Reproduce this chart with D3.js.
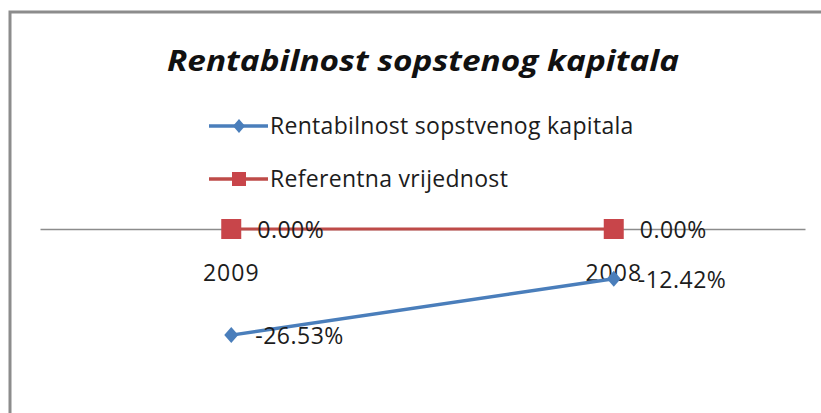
<!DOCTYPE html>
<html>
<head>
<meta charset="utf-8">
<script src="https://cdn.jsdelivr.net/npm/d3@7"></script>
<style>
  body { margin: 0; background: #fff; }
  text { font-family: "Open Sans", "DejaVu Sans", sans-serif; fill: #1c1c1c; }
</style>
</head>
<body>
<script>
// DATA
var categories = ["2009", "2008"];
var roeValues = [-26.53, -12.42];
var refValues = [0, 0];
var seriesNames = ["Rentabilnost sopstvenog kapitala", "Referentna vrijednost"];
var chartTitle = "Rentabilnost sopstenog kapitala";

var blue = "#4a7ebb", red = "#be4b48";

var svg = d3.select("body").append("svg")
    .attr("width", 821)
    .attr("height", 413);

// frame (cut off at right and bottom)
svg.append("rect")
    .attr("x", 10).attr("y", 12)
    .attr("width", 830).attr("height", 420)
    .attr("fill", "#fff")
    .attr("stroke", "#8c8c8c")
    .attr("stroke-width", 3);

// title
svg.append("text")
    .attr("x", 423).attr("y", 71)
    .attr("text-anchor", "middle")
    .attr("font-size", 29)
    .attr("font-style", "italic")
    .attr("font-weight", "bold")
    .attr("textLength", 512)
    .attr("lengthAdjust", "spacingAndGlyphs")
    .style("fill", "#111")
    .text(chartTitle);

// scales
const xScale = d3.scaleBand()
    .domain(categories)
    .range([40, 805]);

const yScale = d3.scaleLinear()
    .domain([-40, 10])
    .range([389, 189]);

const cx = d => xScale(d) + xScale.bandwidth() / 2;

// category axis at zero
const axisG = svg.append("g")
    .attr("transform", "translate(0," + yScale(0) + ")")
    .call(d3.axisBottom(xScale).tickSize(0).tickPadding(0));
axisG.select(".domain").attr("stroke", "#8c8c8c").attr("stroke-width", 1.5);
axisG.selectAll(".tick text").remove();

// category labels (Excel puts them just under the axis)
svg.selectAll(".catLabel").data(categories)
    .enter().append("text")
    .attr("x", d => cx(d))
    .attr("y", yScale(0) + 52)
    .attr("text-anchor", "middle")
    .attr("font-size", 23)
    .attr("letter-spacing", 1)
    .text(d => d);

// reference series
var refPts = categories.map((c, i) => [cx(c), yScale(refValues[i])]);
svg.append("path")
    .attr("d", d3.line()(refPts))
    .attr("fill", "none")
    .attr("stroke", red)
    .attr("stroke-width", 3);

// roe series
var roePts = categories.map((c, i) => [cx(c), yScale(roeValues[i])]);
svg.append("path")
    .attr("d", d3.line()(roePts))
    .attr("fill", "none")
    .attr("stroke", blue)
    .attr("stroke-width", 3.5);

// markers
svg.selectAll(".sq").data(refPts)
    .enter().append("rect")
    .attr("x", d => d[0] - 10).attr("y", d => d[1] - 10)
    .attr("width", 20).attr("height", 20)
    .attr("fill", "#c8454a");

svg.selectAll(".dm").data(roePts)
    .enter().append("path")
    .attr("transform", d => "translate(" + d[0] + "," + d[1] + ")")
    .attr("d", "M0,-8L7,0L0,8L-7,0Z")
    .attr("fill", blue);

// data labels
var fmt = v => v.toFixed(2) + "%";
svg.selectAll(".refLbl").data(refValues)
    .enter().append("text")
    .attr("x", (d, i) => cx(categories[i]) + 26)
    .attr("y", d => yScale(d) + 9)
    .attr("font-size", 23)
    .attr("letter-spacing", 0.5)
    .text(d => fmt(d));

svg.selectAll(".roeLbl").data(roeValues)
    .enter().append("text")
    .attr("x", (d, i) => cx(categories[i]) + 24)
    .attr("y", d => yScale(d) + 9)
    .attr("font-size", 23)
    .attr("letter-spacing", 0.5)
    .text(d => fmt(d));

// legend
var legendY = [126, 179];
var leg = svg.selectAll(".leg").data(seriesNames)
    .enter().append("g")
    .attr("transform", (d, i) => "translate(0," + legendY[i] + ")");

leg.append("line")
    .attr("x1", 209).attr("x2", 268)
    .attr("stroke", (d, i) => i === 0 ? blue : red)
    .attr("stroke-width", 3.5);

leg.filter((d, i) => i === 0).append("path")
    .attr("transform", "translate(239,0)")
    .attr("d", "M0,-7L6,0L0,7L-6,0Z")
    .attr("fill", blue);

leg.filter((d, i) => i === 1).append("rect")
    .attr("x", 232).attr("y", -7)
    .attr("width", 14).attr("height", 14)
    .attr("fill", "#c8454a");

leg.append("text")
    .attr("x", 270).attr("y", 8)
    .attr("font-size", 23)
    .attr("letter-spacing", 0.3)
    .text(d => d);
</script>
</body>
</html>
